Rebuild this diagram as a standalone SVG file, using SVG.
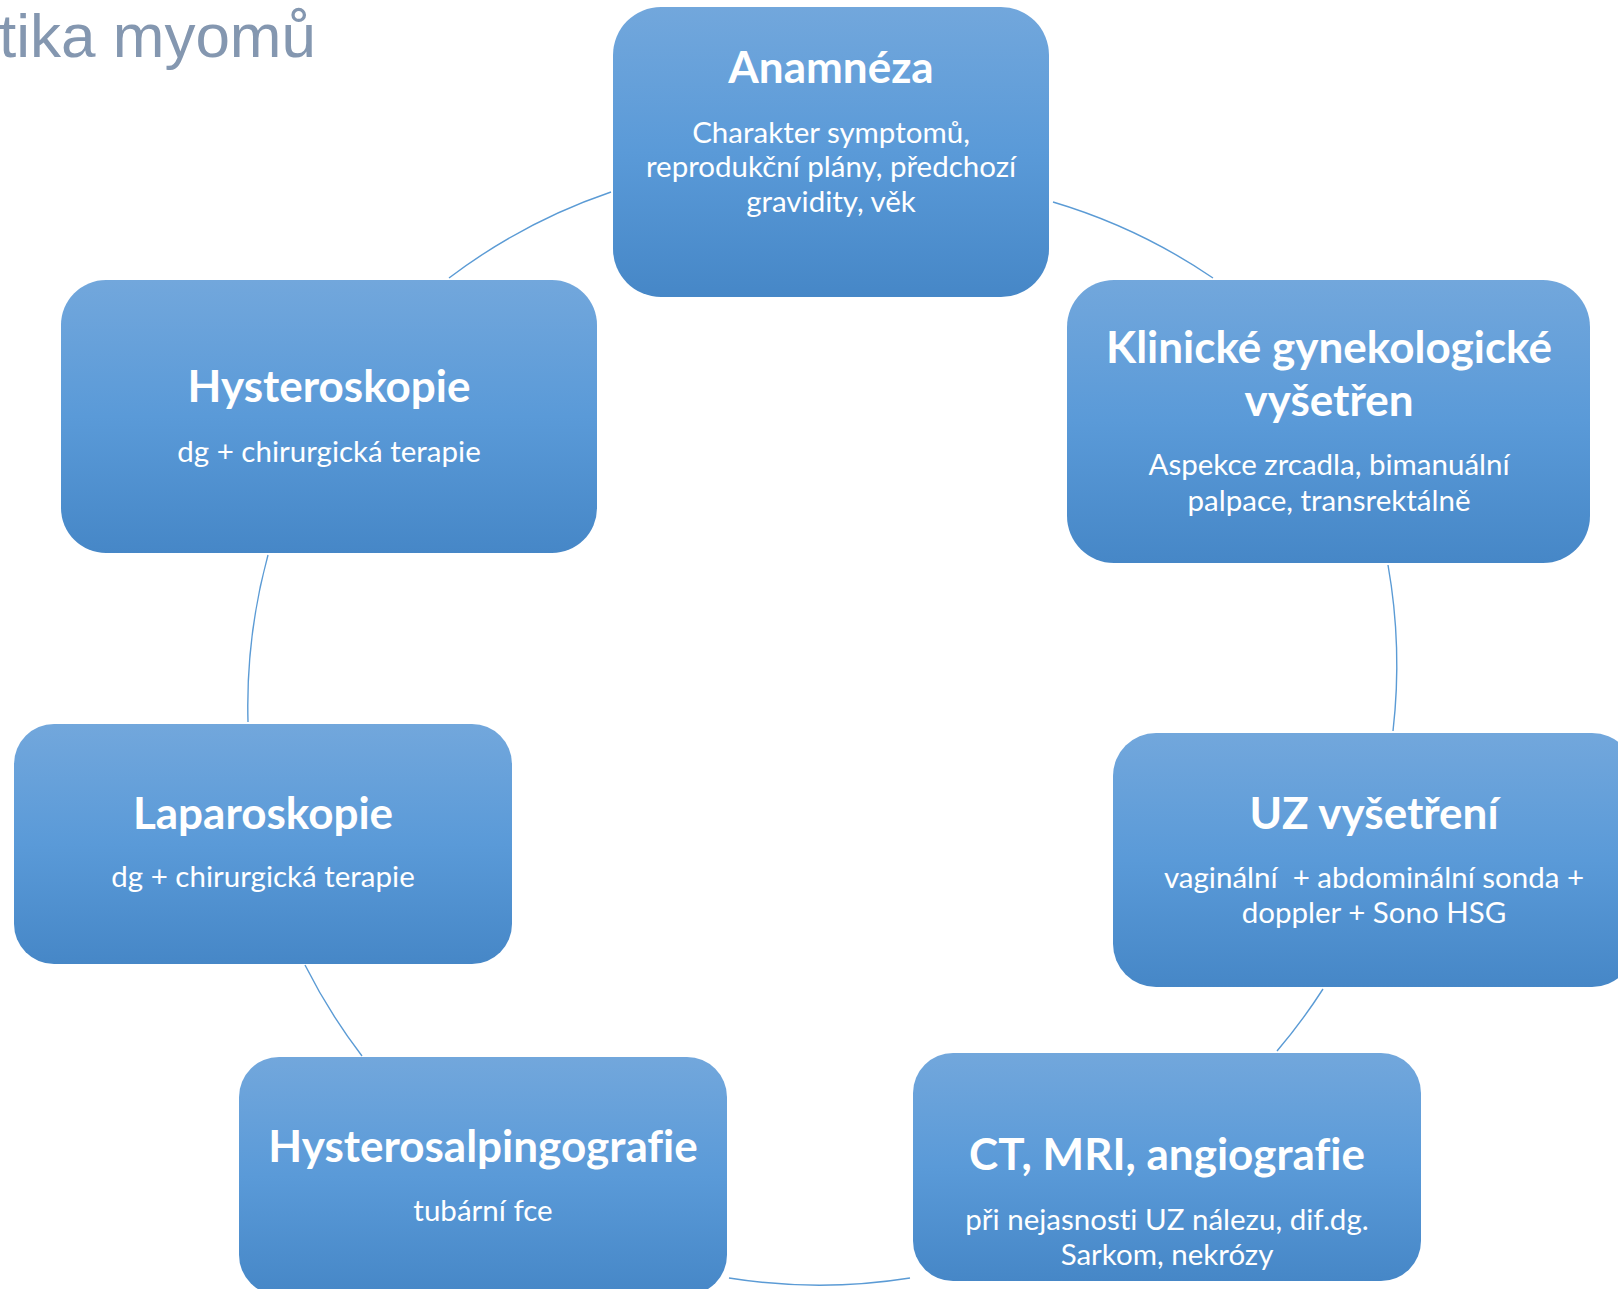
<svg xmlns="http://www.w3.org/2000/svg" width="1618" height="1289" viewBox="0 0 1618 1289">
<defs>
<linearGradient id="g" x1="0" y1="0" x2="0" y2="1">
<stop offset="0" stop-color="#72a7dc"/>
<stop offset="0.5" stop-color="#5a9ad8"/>
<stop offset="1" stop-color="#4687c7"/>
</linearGradient>
<style>
.box{fill:url(#g);}
.t{font-family:Lato,"Open Sans","Liberation Sans",sans-serif;font-weight:bold;font-size:44px;fill:#fff;text-anchor:middle;font-variant-ligatures:none;}
.b{font-family:Lato,"Open Sans","Liberation Sans",sans-serif;font-size:29.5px;fill:#fff;text-anchor:middle;font-variant-ligatures:none;}
.c{fill:none;stroke:#5b9bd5;stroke-width:1.4;}
.title{font-family:"Liberation Sans",Arial,sans-serif;font-size:62px;fill:#8497b0;text-anchor:end;}
</style>
</defs>
<rect width="1618" height="1289" fill="#fff"/>
<text class="title" x="316" y="57">tika myomů</text>
<g id="connectors">
<path class="c" d="M1053 202 A575 575 0 0 1 1213 278"/>
<path class="c" d="M1388 565 A575 575 0 0 1 1393 731"/>
<path class="c" d="M1323 989 A575 575 0 0 1 1277 1051"/>
<path class="c" d="M910 1278 A575 575 0 0 1 729 1278"/>
<path class="c" d="M362 1056 A575 575 0 0 1 305 965"/>
<path class="c" d="M248 722 A575 575 0 0 1 268 555"/>
<path class="c" d="M449 278 A575 575 0 0 1 611 192"/>
</g>
<g id="anamneza">
<rect class="box" x="613" y="7" width="436" height="290" rx="48"/>
<text class="t" x="831" y="83">Anamnéza</text>
<text class="b" x="831" y="143">Charakter symptomů,</text>
<text class="b" x="831" y="177">reprodukční plány, předchozí</text>
<text class="b" x="831" y="212">gravidity, věk</text>
</g>
<g id="klinicke">
<rect class="box" x="1067" y="280" width="523" height="283" rx="47"/>
<text class="t" x="1329" y="363">Klinické gynekologické</text>
<text class="t" x="1329" y="416">vyšetřen</text>
<text class="b" x="1329" y="475">Aspekce zrcadla, bimanuální</text>
<text class="b" x="1329" y="511">palpace, transrektálně</text>
</g>
<g id="uz">
<rect class="box" x="1113" y="733" width="522" height="254" rx="43"/>
<text class="t" x="1374" y="829">UZ vyšetření</text>
<text class="b" x="1374" y="888" xml:space="preserve">vaginální  + abdominální sonda +</text>
<text class="b" x="1374" y="923">doppler + Sono HSG</text>
</g>
<g id="ct">
<rect class="box" x="913" y="1053" width="508" height="228" rx="40"/>
<text class="t" x="1167" y="1170">CT, MRI, angiografie</text>
<text class="b" x="1167" y="1230">při nejasnosti UZ nálezu, dif.dg.</text>
<text class="b" x="1167" y="1265">Sarkom, nekrózy</text>
</g>
<g id="hsg">
<rect class="box" x="239" y="1057" width="488" height="238" rx="40"/>
<text class="t" x="483" y="1162">Hysterosalpingografie</text>
<text class="b" x="483" y="1221">tubární fce</text>
</g>
<g id="laparoskopie">
<rect class="box" x="14" y="724" width="498" height="240" rx="40"/>
<text class="t" x="263" y="829">Laparoskopie</text>
<text class="b" x="263" y="887">dg + chirurgická terapie</text>
</g>
<g id="hysteroskopie">
<rect class="box" x="61" y="280" width="536" height="273" rx="45"/>
<text class="t" x="329" y="402">Hysteroskopie</text>
<text class="b" x="329" y="462">dg + chirurgická terapie</text>
</g>
</svg>
